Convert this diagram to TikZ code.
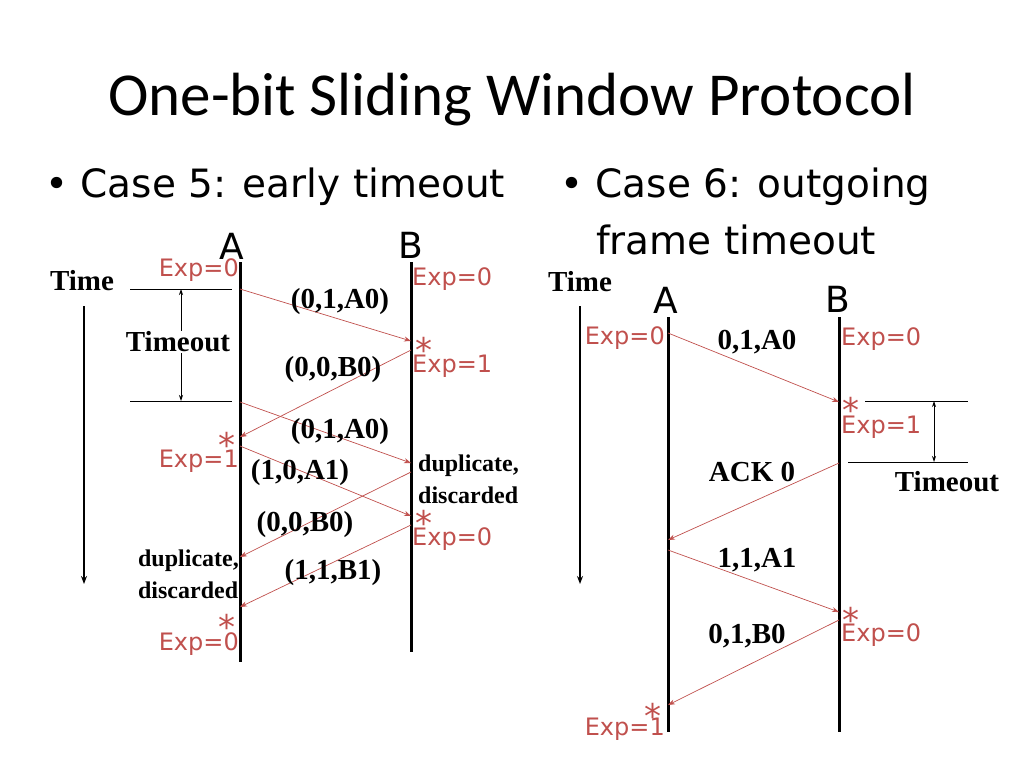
\documentclass[tikz,border=0pt]{standalone}
\usepackage{fontspec}
\setmainfont{Liberation Serif}
\newfontfamily\titlefont{Carlito}
\newfontfamily\sansf{DejaVu Sans}
\usetikzlibrary{arrows.meta}
\definecolor{rd}{HTML}{C0504D}
\tikzset{
 life/.style={line width=3pt},
 msg/.style={rd,line width=0.7pt,-{Stealth[length=7pt,width=5pt]}},
 mlab/.style={font=\fontsize{29}{30}\selectfont\bfseries,inner sep=0pt},
 blab/.style={font=\fontsize{24}{32}\selectfont\bfseries,align=left},
 exp/.style={rd,font=\sansf\fontsize{24}{26}\selectfont,inner sep=1pt},
 star/.style={rd,font=\sansf\fontsize{34}{34}\selectfont,inner sep=0pt},
 ent/.style={font=\sansf\fontsize{36}{36}\selectfont,inner sep=0pt},
 thin/.style={line width=0.8pt},
 tarr/.style={line width=1.5pt,-{Stealth[length=8pt,width=6pt]}},
}
\begin{document}
\begin{tikzpicture}[x=1pt,y=-1pt]
\useasboundingbox (0,0) rectangle (1024,768);
\node[font=\titlefont\fontsize{61}{64}\selectfont] (title) at (512,100) {One-bit Sliding Window Protocol};
\node[anchor=west,font=\sansf\fontsize{39}{40}\selectfont,inner sep=0pt] (c5) at (45,187) {• Case 5: early timeout};
\node[anchor=west,font=\sansf\fontsize{39}{40}\selectfont,inner sep=0pt] (c6) at (560,187) {• Case 6: outgoing};
\node[anchor=west,font=\sansf\fontsize{39}{40}\selectfont,inner sep=0pt] (c6b) at (596,240) {frame timeout};

% ---------- left ----------
\node[ent] (LA) at (232,246) {A};
\node[ent] (LB) at (411,245) {B};
\coordinate (LAt) at (240,262); \coordinate (LAb) at (240,662);
\coordinate (LBt) at (411,262); \coordinate (LBb) at (411,652);
\draw[life] (LAt) -- (LAb);
\draw[life] (LBt) -- (LBb);
\node[mlab] (LT) at (82,281) {Time};
\coordinate (LTa) at (84,306); \coordinate (LTb) at (84,584);
\draw[tarr] (LTa) -- (LTb);
\coordinate (h1a) at (130,289); \coordinate (h1b) at (232,289);
\coordinate (h2a) at (130,401); \coordinate (h2b) at (232,401);
\draw[thin] (h1a) -- (h1b); \draw[thin] (h2a) -- (h2b);
\coordinate (to1) at (181,289); \coordinate (to2) at (181,401);
\draw[thin,{Stealth[length=6pt,width=4pt]}-{Stealth[length=6pt,width=4pt]}] (to1) -- (to2);
\node[mlab,fill=white,inner sep=1pt] (LTO) at (178,342) {Timeout};

\coordinate (a1) at (240,289); \coordinate (b1) at (411,341);
\coordinate (b2) at (411,350); \coordinate (a2) at (240,437);
\coordinate (a3) at (240,402); \coordinate (b3) at (411,463);
\coordinate (a4) at (240,446); \coordinate (b4) at (411,516);
\coordinate (b5) at (411,472); \coordinate (a5) at (240,557);
\coordinate (b6) at (411,525); \coordinate (a6) at (240,607);
\draw[msg] (a1) -- (b1);
\draw[msg] (b2) -- (a2);
\draw[msg] (a3) -- (b3);
\draw[msg] (a4) -- (b4);
\draw[msg] (b5) -- (a5);
\draw[msg] (b6) -- (a6);
\node[mlab] (l1) at (340,302) {(0,1,A0)};
\node[mlab] (l2) at (333,370) {(0,0,B0)};
\node[mlab] (l3) at (340,432) {(0,1,A0)};
\node[mlab] (l4) at (300,473) {(1,0,A1)};
\node[mlab] (l5) at (305,525) {(0,0,B0)};
\node[mlab] (l6) at (333,573) {(1,1,B1)};
\node[star] (s1) at (424,350) {*};
\node[star] (s2) at (227,445) {*};
\node[star] (s3) at (424,523) {*};
\node[star] (s4) at (227,627) {*};
\node[exp,anchor=west] (e1) at (411,279) {Exp=0};
\node[exp,anchor=west] (e2) at (411,366) {Exp=1};
\node[exp,anchor=east] (e3) at (240,461) {Exp=1};
\node[exp,anchor=west] (e4) at (411,539) {Exp=0};
\node[exp,anchor=east] (e5) at (240,644) {Exp=0};
\node[exp,anchor=east] (e6) at (240,270) {Exp=0};
\node[blab,anchor=west,inner sep=0pt] (d1) at (418,479) {duplicate,\\discarded};
\node[blab,anchor=east,inner sep=0pt] (d2) at (239,574) {duplicate,\\discarded};

% ---------- right ----------
\node[ent] (RA) at (666,300) {A};
\node[ent] (RB) at (838,299) {B};
\coordinate (RAt) at (668,317); \coordinate (RAb) at (668,732);
\coordinate (RBt) at (839,317); \coordinate (RBb) at (839,732);
\draw[life] (RAt) -- (RAb);
\draw[life] (RBt) -- (RBb);
\node[mlab] (RT) at (580,282) {Time};
\coordinate (RTa) at (580,306); \coordinate (RTb) at (580,584);
\draw[tarr] (RTa) -- (RTb);
\node[exp,anchor=east] (r1) at (666,338) {Exp=0};
\node[exp,anchor=west] (r2) at (840,339) {Exp=0};
\coordinate (ra1) at (668,333); \coordinate (rb1) at (839,402);
\coordinate (rb2) at (839,463); \coordinate (ra2) at (668,540);
\coordinate (ra3) at (668,550); \coordinate (rb3) at (839,612);
\coordinate (rb4) at (839,620); \coordinate (ra4) at (668,705);
\draw[msg] (ra1) -- (rb1);
\draw[msg] (rb2) -- (ra2);
\draw[msg] (ra3) -- (rb3);
\draw[msg] (rb4) -- (ra4);
\node[mlab] (rl1) at (757,342) {0,1,A0};
\node[mlab] (rl2) at (752,472) {ACK 0};
\node[mlab] (rl3) at (757,560) {1,1,A1};
\node[mlab] (rl4) at (747,636) {0,1,B0};
\node[star] (rs1) at (851,410) {*};
\node[star] (rs2) at (851,620) {*};
\node[star] (rs3) at (653,716) {*};
\node[exp,anchor=west] (r3) at (840,427) {Exp=1};
\node[exp,anchor=west] (r4) at (840,635) {Exp=0};
\node[exp,anchor=east] (r5) at (666,729) {Exp=1};
\coordinate (rh1a) at (865,401); \coordinate (rh1b) at (968,401);
\coordinate (rh2a) at (848,462); \coordinate (rh2b) at (968,462);
\draw[thin] (rh1a) -- (rh1b); \draw[thin] (rh2a) -- (rh2b);
\coordinate (rt1) at (934,401); \coordinate (rt2) at (934,462);
\draw[thin,{Stealth[length=6pt,width=4pt]}-{Stealth[length=6pt,width=4pt]}] (rt1) -- (rt2);
\node[mlab] (RTO) at (947,482) {Timeout};
\end{tikzpicture}
\end{document}
